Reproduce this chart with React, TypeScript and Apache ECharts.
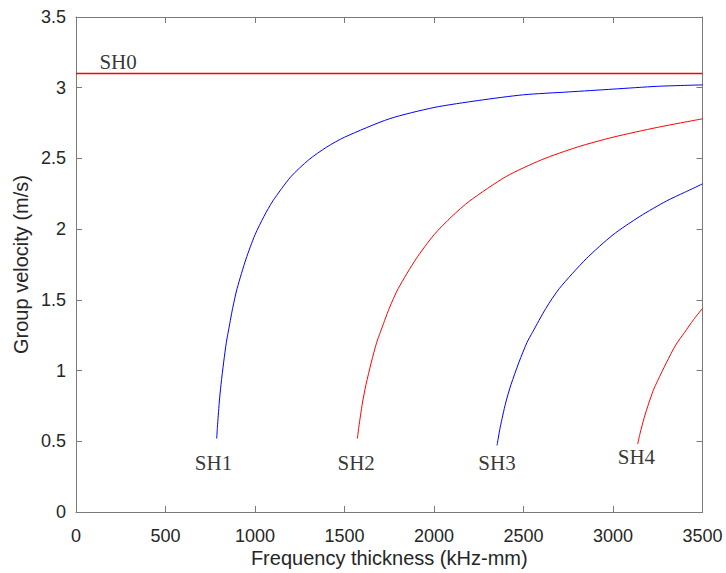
import React, { useEffect, useRef } from "react";
import * as echarts from "echarts";

// Shear-horizontal (SH) mode group-velocity dispersion curves
const sh0X = [0, 1750, 3500];
const sh0Y = [3.1, 3.1, 3.1];

const sh1X = [786, 790, 800, 810, 825, 840, 850, 875, 900, 950, 1000, 1050, 1100, 1200, 1300, 1400, 1500, 1750, 2000, 2250, 2500, 2750, 3000, 3250, 3500];
const sh1Y = [0.52, 0.6, 0.77, 0.9, 1.06, 1.2, 1.27, 1.44, 1.58, 1.79, 1.96, 2.09, 2.2, 2.37, 2.49, 2.58, 2.65, 2.78, 2.86, 2.91, 2.95, 2.97, 2.99, 3.01, 3.02];

const sh2X = [1572, 1580, 1600, 1620, 1650, 1680, 1700, 1750, 1800, 1900, 2000, 2100, 2200, 2400, 2600, 2800, 3000, 3250, 3500];
const sh2Y = [0.52, 0.6, 0.77, 0.9, 1.06, 1.2, 1.27, 1.44, 1.58, 1.79, 1.96, 2.09, 2.2, 2.37, 2.49, 2.58, 2.65, 2.72, 2.78];

const sh3X = [2352, 2360, 2370, 2400, 2430, 2475, 2520, 2550, 2625, 2700, 2850, 3000, 3150, 3300, 3400, 3500];
const sh3Y = [0.47, 0.53, 0.6, 0.77, 0.9, 1.06, 1.2, 1.27, 1.44, 1.58, 1.79, 1.96, 2.09, 2.2, 2.26, 2.32];

const sh4X = [3138, 3150, 3175, 3200, 3225, 3250, 3300, 3350, 3400, 3450, 3500];
const sh4Y = [0.48, 0.55, 0.67, 0.77, 0.86, 0.93, 1.06, 1.18, 1.27, 1.36, 1.44];

// Mode labels and their anchor positions in data space
const modeNames = ["SH0", "SH1", "SH2", "SH3", "SH4"];
const labelX = [235, 768, 1565, 2352, 3131];
const labelY = [3.18, 0.35, 0.35, 0.35, 0.39];

const xTicks = { min: 0, max: 3500, interval: 500 };
const yTicks = { min: 0, max: 3.5, interval: 0.5 };

const zip = (xs: number[], ys: number[]) => xs.map((x, i) => [x, ys[i]]);

const AXIS_COLOR = "#7a7a7a";
const TEXT_COLOR = "#262626";
const SANS = "Liberation Sans, Arial, sans-serif";

export default function App() {
  const ref = useRef<HTMLDivElement>(null);

  useEffect(() => {
    if (!ref.current) return;
    const chart = echarts.init(ref.current, undefined, { renderer: "svg" });

    const axisCommon = {
      axisLine: { show: true, onZero: false, lineStyle: { color: AXIS_COLOR, width: 1 } },
      axisTick: { show: true, inside: true, length: 6, lineStyle: { color: AXIS_COLOR } },
      splitLine: { show: false },
    };

    const curve = (
      name: string,
      xs: number[],
      ys: number[],
      color: string,
      smooth: number | boolean,
      width = 1
    ) => ({
      name,
      type: "line",
      data: zip(xs, ys),
      smooth,
      showSymbol: false,
      symbol: "none",
      color,
      lineStyle: { color, width, opacity: 1 },
      emphasis: { disabled: true },
      z: 3,
    });

    chart.setOption({
      animation: false,
      backgroundColor: "#ffffff",
      grid: {
        left: 76,
        top: 17,
        width: 626.5,
        height: 495,
        containLabel: false,
        outerBoundsMode: "none",
      },
      xAxis: [
        {
          type: "value",
          position: "bottom",
          ...xTicks,
          ...axisCommon,
          axisLabel: {
            color: TEXT_COLOR,
            fontFamily: SANS,
            fontSize: 18,
            margin: 15,
            formatter: (v: number) => String(v),
          },
          name: "Frequency thickness (kHz-mm)",
          nameLocation: "middle",
          nameGap: 36,
          nameMoveOverlap: false,
          nameTextStyle: { color: TEXT_COLOR, fontFamily: SANS, fontSize: 20 },
        },
        {
          type: "value",
          position: "top",
          ...xTicks,
          ...axisCommon,
          axisLabel: { show: false },
        },
      ],
      yAxis: [
        {
          type: "value",
          position: "left",
          ...yTicks,
          ...axisCommon,
          axisLabel: {
            color: TEXT_COLOR,
            fontFamily: SANS,
            fontSize: 18,
            margin: 10,
            formatter: (v: number) => String(v),
          },
          name: "Group velocity (m/s)",
          nameLocation: "middle",
          nameGap: 45,
          nameMoveOverlap: false,
          nameTextStyle: { color: TEXT_COLOR, fontFamily: SANS, fontSize: 20 },
        },
        {
          type: "value",
          position: "right",
          ...yTicks,
          ...axisCommon,
          axisLabel: { show: false },
        },
      ],
      series: [
        curve("SH0", sh0X, sh0Y, "#ff0000", false, 1.5),
        curve("SH1", sh1X, sh1Y, "#0000ff", 0.25),
        curve("SH2", sh2X, sh2Y, "#ff0000", 0.25),
        curve("SH3", sh3X, sh3Y, "#0000ff", 0.25),
        curve("SH4", sh4X, sh4Y, "#ff0000", 0.25),
        {
          name: "labels",
          type: "scatter",
          symbolSize: 0,
          data: modeNames.map((n, i) => [labelX[i], labelY[i], n]),
          label: {
            show: true,
            position: "inside",
            formatter: (p: any) => p.value[2],
            color: "#000000",
            fontFamily: "Liberation Serif, Times New Roman, serif",
            fontSize: 21,
            align: "center",
            verticalAlign: "middle",
          },
          z: 4,
        },
      ],
    });

    return () => chart.dispose();
  }, []);

  return (
    <div
      ref={ref}
      style={{ position: "fixed", left: 0, top: 0, width: 726, height: 573, background: "#fff" }}
    />
  );
}
